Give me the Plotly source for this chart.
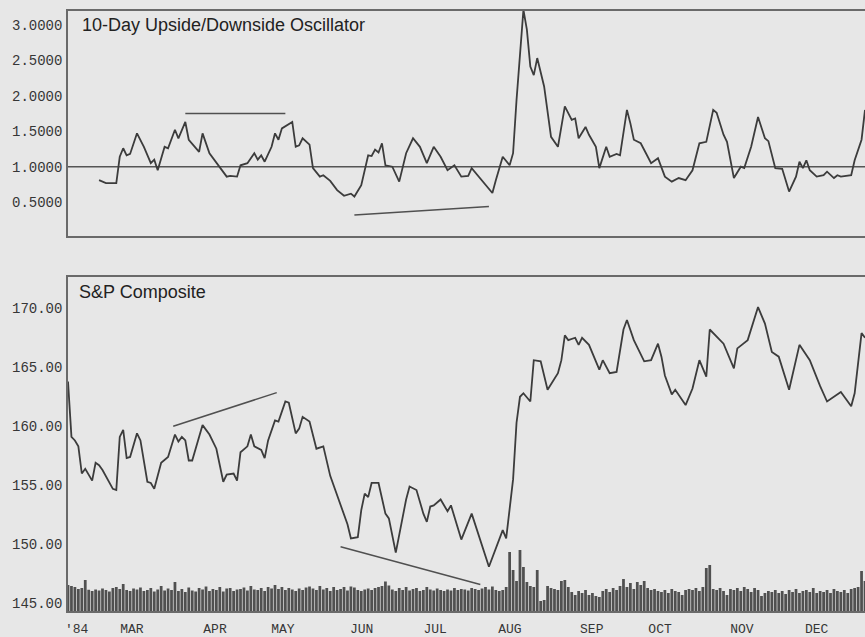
import plotly.graph_objects as go

# ---------------- data (x = trading-day index, Feb..Dec 1984) ----------------
sp_day = [0, 1, 2, 3, 4, 5, 7, 8, 9, 10, 13, 14, 15, 16, 17, 18, 20, 21, 23, 24,
          25, 27, 29, 30, 31, 32, 33, 34, 35, 36, 39, 41, 43, 45, 46, 48, 49, 50, 52, 53,
          54, 56, 57, 58, 60, 61, 63, 64, 66, 67, 68, 70, 72, 74, 76, 81, 82, 84, 85, 86,
          87, 88, 90, 92, 93, 95, 98, 99, 101, 103, 104, 105, 106, 108, 110, 111, 114, 117, 122, 126,
          127, 129, 130, 131, 132, 134, 135, 137, 139, 142, 143, 144, 145, 147, 148, 149, 151, 154, 155, 157,
          159, 161, 162, 164, 167, 169, 171, 172, 173, 175, 176, 179, 181, 183, 185, 186, 188, 190, 193, 194,
          197, 200, 202, 204, 206, 209, 212, 215, 218, 220, 224, 227, 228, 230, 231]
sp_val = [163.8, 159.1, 158.8, 158.3, 156.0, 156.4, 155.4, 156.9, 156.7, 156.3, 154.7, 154.6, 159.1, 159.7, 157.3, 157.4, 159.4, 158.8, 155.3, 155.2,
          154.7, 156.9, 157.4, 158.3, 159.3, 158.7, 159.1, 158.8, 157.1, 157.1, 160.1, 159.3, 158.1, 155.3, 155.9, 156.0, 155.4, 157.8, 158.3, 159.3,
          158.3, 158.0, 157.3, 158.8, 160.5, 160.4, 162.1, 162.0, 159.4, 159.8, 160.8, 160.4, 158.1, 158.3, 155.8, 151.7, 150.5, 150.6, 152.9, 154.3,
          154.0, 155.2, 155.2, 152.6, 152.2, 149.3, 153.8, 154.9, 154.6, 152.6, 151.9, 153.2, 153.3, 153.8, 152.8, 153.3, 150.4, 152.6, 148.1, 151.2,
          150.5, 155.5, 160.3, 162.5, 162.8, 162.1, 165.6, 165.5, 163.1, 164.5, 165.6, 167.7, 167.3, 167.5, 166.9, 167.5, 166.9, 164.8, 165.6, 164.5,
          164.6, 168.2, 169.0, 167.3, 165.5, 165.6, 167.0, 165.9, 164.3, 162.7, 163.1, 161.8, 163.2, 165.6, 164.2, 168.2, 167.6, 167.0, 164.9, 166.6,
          167.3, 170.1, 168.7, 166.3, 165.9, 163.1, 166.9, 165.6, 163.4, 162.1, 162.9, 161.7, 162.8, 167.9, 167.5]

osc_day = [9, 11, 14, 15, 16, 17, 18, 20, 22, 24, 25, 26, 28, 29, 31, 32, 34, 35, 38, 39,
           41, 44, 46, 47, 49, 50, 52, 54, 55, 56, 57, 59, 60, 61, 62, 65, 66, 67, 68, 70,
           71, 73, 74, 76, 78, 80, 82, 83, 85, 87, 88, 89, 90, 91, 92, 94, 96, 98, 100, 102,
           104, 106, 108, 110, 112, 114, 116, 117, 119, 123, 124, 126, 128, 129, 130, 131, 132, 133, 134, 135,
           136, 138, 140, 142, 144, 146, 147, 148, 150, 151, 153, 154, 156, 157, 159, 160, 162, 163, 164, 166,
           169, 171, 173, 175, 177, 179, 181, 183, 185, 187, 188, 190, 191, 193, 195, 196, 198, 200, 202, 203,
           205, 207, 209, 211, 212, 213, 214, 215, 217, 219, 220, 222, 223, 224, 227, 228, 230, 231]
osc_val = [0.81, 0.77, 0.77, 1.14, 1.26, 1.16, 1.18, 1.47, 1.28, 1.05, 1.10, 0.95, 1.28, 1.26, 1.52, 1.40, 1.63, 1.38, 1.21, 1.47,
           1.19, 1.00, 0.86, 0.87, 0.86, 1.02, 1.05, 1.19, 1.10, 1.16, 1.07, 1.28, 1.47, 1.38, 1.54, 1.63, 1.28, 1.30, 1.40, 1.31,
           0.98, 0.86, 0.88, 0.80, 0.67, 0.59, 0.62, 0.58, 0.74, 1.16, 1.15, 1.24, 1.20, 1.33, 1.02, 1.00, 0.79, 1.19, 1.40, 1.28,
           1.05, 1.28, 1.14, 0.95, 1.02, 0.86, 0.87, 0.98, 0.86, 0.63, 0.81, 1.14, 1.02, 1.19, 1.94, 2.64, 3.21, 2.93, 2.41, 2.29,
           2.53, 2.13, 1.42, 1.28, 1.85, 1.66, 1.68, 1.40, 1.56, 1.45, 1.28, 0.98, 1.28, 1.14, 1.18, 1.16, 1.80, 1.61, 1.38, 1.33,
           1.05, 1.12, 0.86, 0.79, 0.84, 0.81, 0.95, 1.33, 1.35, 1.80, 1.76, 1.45, 1.35, 0.84, 1.00, 0.98, 1.28, 1.70, 1.40, 1.36,
           0.98, 0.97, 0.65, 0.86, 1.07, 0.98, 1.09, 0.95, 0.86, 0.88, 0.93, 0.84, 0.88, 0.86, 0.88, 1.09, 1.38, 1.80]

# daily NYSE volume (millions of shares), one bar per trading day
volume = [104, 100, 96, 88, 92, 124, 85, 80, 86, 82,
          90, 84, 78, 92, 96, 88, 108, 84, 80, 90,
          86, 94, 80, 84, 92, 78, 86, 100, 82, 90,
          84, 116, 80, 88, 76, 94, 82, 78, 92, 86,
          98, 80, 88, 84, 96, 78, 90, 92, 80, 86,
          88, 94, 82, 100, 86, 84, 92, 80, 96, 90,
          104, 88, 96, 84, 92, 86, 80, 90, 84, 94,
          98, 90, 84, 100, 86, 92, 80, 96, 84, 88,
          96, 82, 98, 94, 84, 80, 86, 90, 84, 92,
          96, 100, 118, 102, 86, 80, 92, 84, 96, 82,
          88, 92, 80, 84, 96, 86, 82, 90, 84, 80,
          86, 82, 92, 84, 88, 86, 82, 92, 88, 84,
          90, 96, 86, 98, 84, 80, 84, 96, 236, 164,
          120, 244, 176, 116, 100, 96, 164, 40, 44, 100,
          92, 88, 84, 120, 124, 96, 76, 64, 80, 72,
          84, 64, 72, 60, 56, 80, 88, 76, 92, 84,
          100, 128, 96, 112, 88, 116, 104, 120, 92, 84,
          88, 80, 76, 84, 72, 88, 80, 76, 64, 84,
          88, 84, 92, 80, 96, 172, 184, 88, 84, 92,
          80, 64, 88, 84, 92, 80, 96, 88, 76, 92,
          84, 60, 72, 80, 76, 84, 72, 80, 68, 84,
          76, 88, 72, 80, 84, 76, 92, 72, 80, 76,
          84, 72, 88, 80, 76, 84, 72, 88, 92, 96, 160, 120]
vol_day = list(range(len(volume)))

osc_ref_level = 1.0
osc_trend_top = ([34, 63], [1.75, 1.75])
osc_trend_low = ([83, 122], [0.32, 0.44])
sp_trend_up = ([30.5, 60.5], [160.0, 162.85])
sp_trend_down = ([79, 119.5], [149.8, 146.6])

month_pos = [2.5, 18.5, 42.6, 62.3, 85.1, 106.4, 128.1, 151.8, 171.6, 195.3, 217.0]
month_lbl = ["'84", "MAR", "APR", "MAY", "JUN", "JUL", "AUG", "SEP", "OCT", "NOV", "DEC"]
sp_ticks = [145, 150, 155, 160, 165, 170]
sp_tick_lbl = ["145.00", "150.00", "155.00", "160.00", "165.00", "170.00"]
osc_ticks = [0.5, 1.0, 1.5, 2.0, 2.5, 3.0]
osc_tick_lbl = ["0.5000", "1.0000", "1.5000", "2.0000", "2.5000", "3.0000"]

# ---------------- styling ----------------
BG = "#e7e7e7"
INK = "#3c3c3c"
AX = "#6a6a6a"
YTICKFONT = dict(family="Liberation Mono", size=14, color="#363636")
XTICKFONT = dict(family="Liberation Mono", size=13, color="#363636")
TITLEFONT = dict(family="Liberation Sans", size=18, color="#222222")
N = len(volume) - 1

fig = go.Figure()
fig.add_trace(go.Bar(x=vol_day, y=volume, xaxis="x", yaxis="y3",
                     marker=dict(color="#404040", line=dict(width=0)), opacity=0.9,
                     showlegend=False, hoverinfo="skip"))
fig.add_trace(go.Scatter(x=sp_day, y=sp_val, xaxis="x", yaxis="y", mode="lines",
                         line=dict(color=INK, width=1.8), showlegend=False))
for tx, ty in (sp_trend_up, sp_trend_down):
    fig.add_trace(go.Scatter(x=tx, y=ty, xaxis="x", yaxis="y", mode="lines",
                             line=dict(color="#505050", width=1.5), showlegend=False))
fig.add_trace(go.Scatter(x=[0, N], y=[osc_ref_level, osc_ref_level], xaxis="x2", yaxis="y2",
                         mode="lines", line=dict(color="#555555", width=1.5), showlegend=False))
fig.add_trace(go.Scatter(x=osc_day, y=osc_val, xaxis="x2", yaxis="y2", mode="lines",
                         line=dict(color=INK, width=1.8), showlegend=False))
for tx, ty in (osc_trend_top, osc_trend_low):
    fig.add_trace(go.Scatter(x=tx, y=ty, xaxis="x2", yaxis="y2", mode="lines",
                             line=dict(color="#505050", width=1.5), showlegend=False))

common_x = dict(range=[0, N], showgrid=False, zeroline=False, ticks="",
                showline=True, linecolor=AX, linewidth=1.5, mirror=True)
fig.update_layout(
    width=865, height=637,
    margin=dict(l=68, r=0, t=11, b=26),
    paper_bgcolor=BG, plot_bgcolor=BG,
    bargap=0.2,
    xaxis=dict(**common_x, anchor="y", tickvals=month_pos, ticktext=month_lbl,
               tickfont=XTICKFONT, ticklabelstandoff=5),
    yaxis=dict(domain=[0, 0.5567], range=[144.35, 172.65], tickvals=sp_ticks,
               ticktext=sp_tick_lbl, tickfont=YTICKFONT, showgrid=False, zeroline=False,
               ticks="", showline=True, linecolor=AX, linewidth=1.5, ticklabelstandoff=1),
    yaxis3=dict(overlaying="y", range=[0, 1336], visible=False),
    xaxis2=dict(**common_x, anchor="y2", matches="x", showticklabels=False),
    yaxis2=dict(domain=[0.625, 1], range=[0.024, 3.193], tickvals=osc_ticks,
                ticktext=osc_tick_lbl, tickfont=YTICKFONT, showgrid=False, zeroline=False,
                ticks="", showline=True, linecolor=AX, linewidth=1.5, anchor="x2",
                ticklabelstandoff=1),
    annotations=[
        dict(text="10-Day Upside/Downside Oscillator", xref="paper", yref="paper",
             x=0.0151, y=0.996, xanchor="left", yanchor="top", showarrow=False,
             font=TITLEFONT),
        dict(text="S&P Composite", xref="paper", yref="paper",
             x=0.0113, y=0.551, xanchor="left", yanchor="top", showarrow=False,
             font=TITLEFONT),
    ],
)

fig.write_html("out.html",
               config={"displayModeBar": False},
               post_script="document.body.style.margin='0px';"
                           "document.body.style.background='#e7e7e7';")
